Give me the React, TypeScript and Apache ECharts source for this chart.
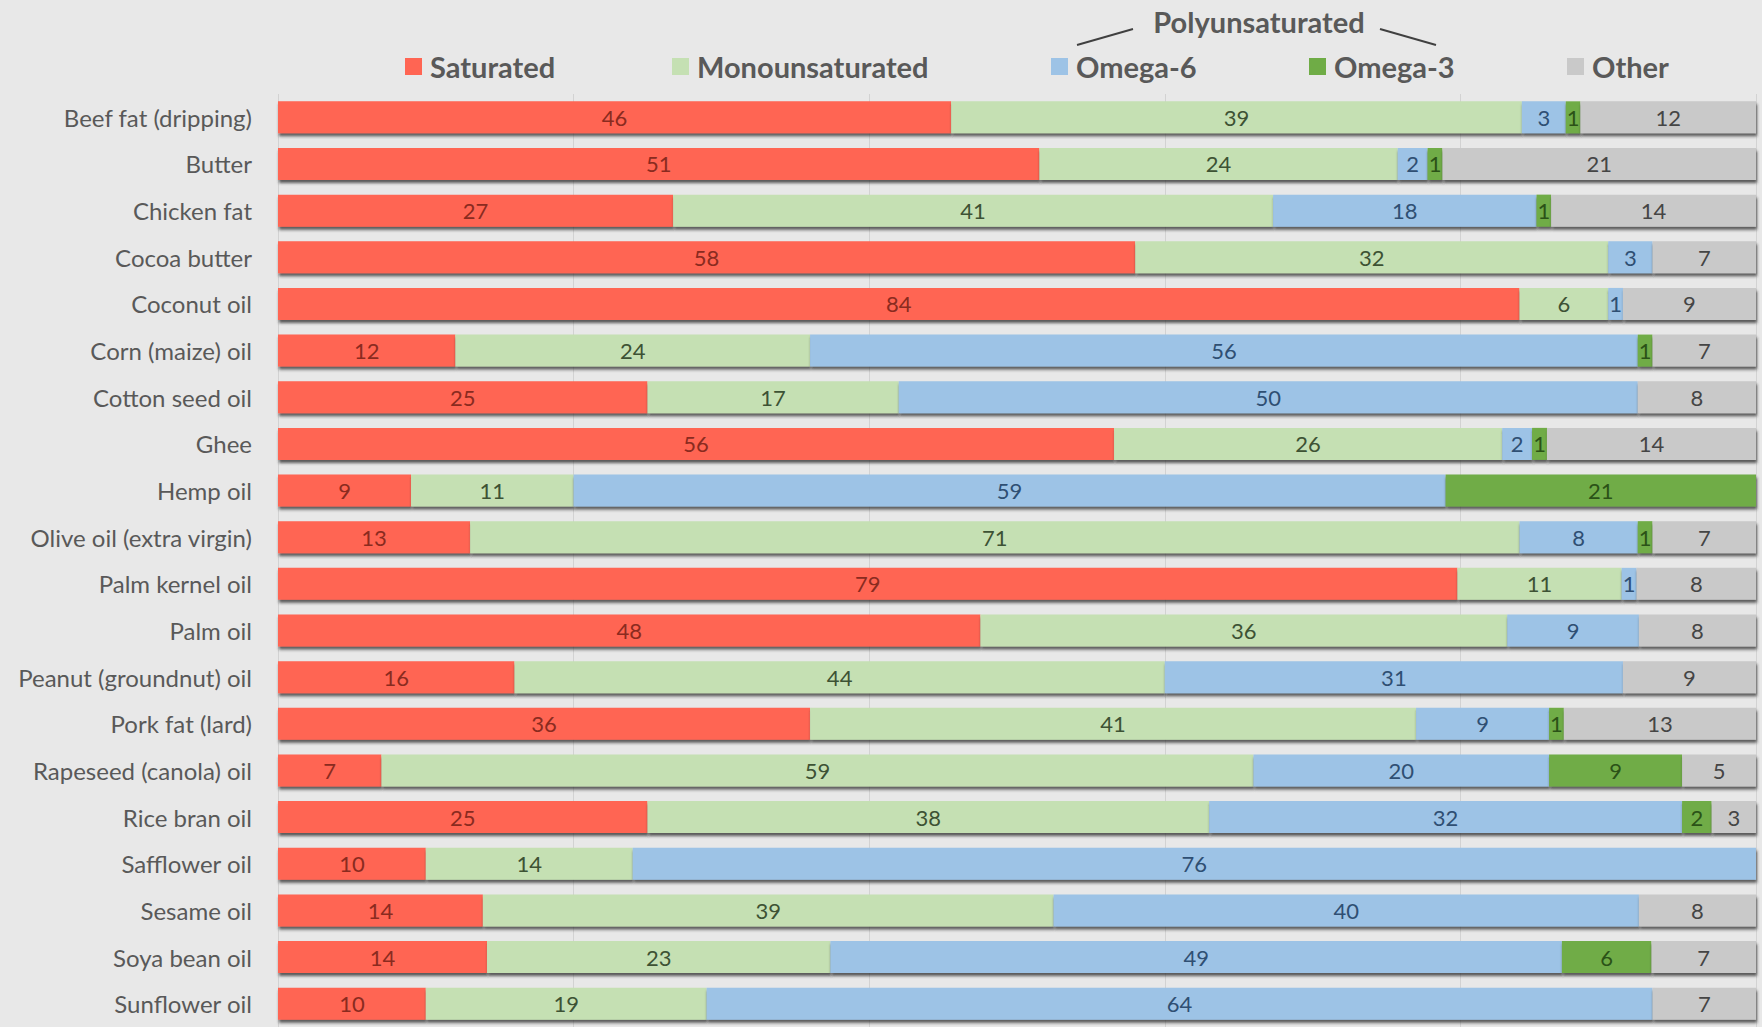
import React, { useEffect, useRef } from "react";
import * as echarts from "echarts";

// Oils and fats, top to bottom
const categories = [
  "Beef fat (dripping)",
  "Butter",
  "Chicken fat",
  "Cocoa butter",
  "Coconut oil",
  "Corn (maize) oil",
  "Cotton seed oil",
  "Ghee",
  "Hemp oil",
  "Olive oil (extra virgin)",
  "Palm kernel oil",
  "Palm oil",
  "Peanut (groundnut) oil",
  "Pork fat (lard)",
  "Rapeseed (canola) oil",
  "Rice bran oil",
  "Safflower oil",
  "Sesame oil",
  "Soya bean oil",
  "Sunflower oil",
];

// Fat composition, % (as published, rows may not sum to exactly 100)
const saturated = [46, 51, 27, 58, 84, 12, 25, 56, 9, 13, 79, 48, 16, 36, 7, 25, 10, 14, 14, 10];
const monounsaturated = [39, 24, 41, 32, 6, 24, 17, 26, 11, 71, 11, 36, 44, 41, 59, 38, 14, 39, 23, 19];
const omega6 = [3, 2, 18, 3, 1, 56, 50, 2, 59, 8, 1, 9, 31, 9, 20, 32, 76, 40, 49, 64];
const omega3 = [1, 1, 1, 0, 0, 1, 0, 1, 21, 1, 0, 0, 0, 1, 9, 2, 0, 0, 6, 0];
const other = [12, 21, 14, 7, 9, 7, 8, 14, 0, 7, 8, 8, 9, 13, 5, 3, 0, 8, 7, 7];

const seriesNames = ["Saturated", "Monounsaturated", "Omega-6", "Omega-3", "Other"];
const seriesValues = [saturated, monounsaturated, omega6, omega3, other];
const barColors = ["#ff6553", "#c5e0b3", "#9dc3e6", "#6fac46", "#c9c9c9"];
const labelColors = ["#8a2b1f", "#3d5234", "#2f4f73", "#2b5217", "#454545"];
// left edge of each legend entry
const legendLefts = [400, 667, 1046, 1304, 1562];

const xTicks = { min: 0, max: 100, interval: 20 };

const FONT = "Lato, 'Open Sans', sans-serif";

// each row is drawn as a 100% stacked bar
const rowTotals = categories.map((_, i) =>
  seriesValues.reduce((s, arr) => s + arr[i], 0)
);

export default function App() {
  const ref = useRef<HTMLDivElement>(null);

  useEffect(() => {
    if (!ref.current) return;
    const chart = echarts.init(ref.current, undefined, { renderer: "svg" });

    const series = seriesNames.map((name, si) => ({
      name,
      type: "bar",
      stack: "total",
      barWidth: 32,
      data: seriesValues[si].map((v, i) => (v / rowTotals[i]) * 100),
      itemStyle: {
        color: barColors[si],
        shadowColor: "rgba(40,40,40,0.75)",
        shadowBlur: 3,
        shadowOffsetX: 1,
        shadowOffsetY: 3,
      },
      label: {
        show: true,
        position: "inside",
        fontFamily: FONT,
        fontSize: 22,
        color: labelColors[si],
        formatter: (p: any) => {
          const raw = seriesValues[si][p.dataIndex];
          return raw ? String(raw) : "";
        },
      },
      emphasis: { disabled: true },
    }));

    const legends = seriesNames.map((name, i) => ({
      left: legendLefts[i],
      top: 47,
      itemWidth: 17,
      itemHeight: 17,
      icon: "rect",
      data: [name],
      selectedMode: false,
      textStyle: {
        fontFamily: FONT,
        fontSize: 29,
        fontWeight: "bold",
        color: "#595959",
        padding: [0, 0, 0, 3],
      },
    }));

    chart.setOption({
      animation: false,
      backgroundColor: "#e8e8e8",
      textStyle: { fontFamily: FONT },
      grid: { left: 278, right: 6, top: 94, height: 940 },
      legend: legends,
      xAxis: {
        type: "value",
        min: xTicks.min,
        max: xTicks.max,
        interval: xTicks.interval,
        axisLabel: { show: false },
        axisLine: { show: false },
        axisTick: { show: false },
        splitLine: { show: true, lineStyle: { color: "#d2d2d2", width: 1 } },
      },
      yAxis: {
        type: "category",
        data: categories,
        inverse: true,
        axisLine: { show: false },
        axisTick: { show: false },
        axisLabel: {
          margin: 26,
          fontFamily: FONT,
          fontSize: 24,
          color: "#595959",
        },
      },
      graphic: [
        {
          type: "text",
          x: 1259,
          y: 21,
          style: {
            text: "Polyunsaturated",
            align: "center",
            verticalAlign: "middle",
            fontFamily: FONT,
            fontSize: 29,
            fontWeight: "bold",
            fill: "#595959",
          },
        },
        {
          type: "line",
          shape: { x1: 1077, y1: 45, x2: 1133, y2: 29 },
          style: { stroke: "#404040", lineWidth: 2 },
        },
        {
          type: "line",
          shape: { x1: 1380, y1: 29, x2: 1436, y2: 45 },
          style: { stroke: "#404040", lineWidth: 2 },
        },
      ],
      series,
    });

    return () => chart.dispose();
  }, []);

  return (
    <div
      ref={ref}
      style={{ position: "absolute", left: 0, top: 0, width: 1762, height: 1027 }}
    />
  );
}
